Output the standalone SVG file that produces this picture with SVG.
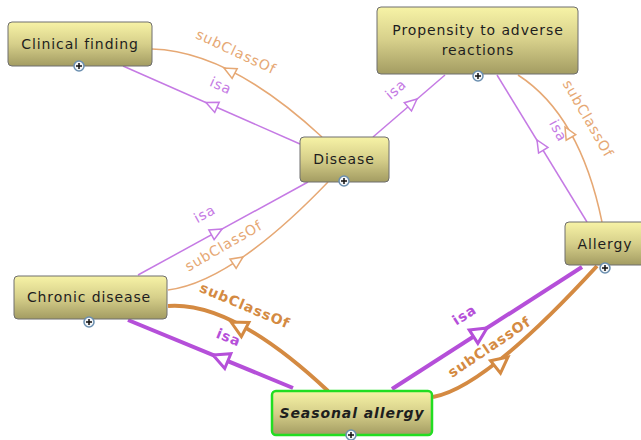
<svg xmlns="http://www.w3.org/2000/svg" xmlns:xlink="http://www.w3.org/1999/xlink" width="641" height="440" viewBox="0 0 641 440">
<defs>
<linearGradient id="g" x1="0" y1="0" x2="0" y2="1">
<stop offset="0" stop-color="#f7f3a6"/>
<stop offset="0.5" stop-color="#d6cf8a"/>
<stop offset="1" stop-color="#a39c62"/>
</linearGradient>
<path id="triS" d="M0,0 L-12,-5.5 L-12,5.5 Z"/>
<path id="triL" d="M0,0 L-16,-8 L-16,8 Z"/>
<g id="plus">
<circle r="5" fill="#f4f6f8" stroke="#6b8fb0" stroke-width="1.5"/>
<path d="M-3,0 H3 M0,-3 V3" stroke="#111" stroke-width="1.5"/>
</g>
</defs>
<style>
.node rect{fill:url(#g);stroke:#6e6e6e;stroke-width:1}
.node text{font-family:"DejaVu Sans",Verdana,sans-serif;font-size:14px;letter-spacing:0.9px;fill:#1e1e1e;text-anchor:middle}
.sel rect{stroke:#22dd22;stroke-width:2.5}
.sel text{font-weight:bold;font-style:italic}
.isa{stroke:#c57ae4;stroke-width:1.5;fill:none}
.sub{stroke:#e6a874;stroke-width:1.5;fill:none}
.isaB{stroke:#b54fd9;stroke-width:4;fill:none}
.subB{stroke:#d48a42;stroke-width:4;fill:none}
.hi{fill:#fff;stroke:#c57ae4;stroke-width:1.5}
.hs{fill:#fff;stroke:#e6a874;stroke-width:1.5}
.hiB{fill:#fff;stroke:#b54fd9;stroke-width:3}
.hsB{fill:#fff;stroke:#d48a42;stroke-width:3}
.lbl{font-family:"DejaVu Sans",Verdana,sans-serif;font-size:14px;letter-spacing:0.9px;text-anchor:middle}
.li{fill:#c57ae4}
.ls{fill:#e6a874}
.liB{fill:#b54fd9;font-weight:bold}
.lsB{fill:#d48a42;font-weight:bold}
</style>
<rect width="641" height="440" fill="#fff"/>
<g id="connectors">
<!-- Disease isa Clinical finding -->
<path class="isa" d="M300,144 L123,66"/>
<use xlink:href="#triS" class="hi" transform="translate(206,102.5) rotate(203.8)"/>
<text class="lbl li" transform="translate(219,90) rotate(23.8)">isa</text>
<!-- Disease subClassOf Clinical finding -->
<path class="sub" d="M152,49 Q229,51 322,137"/>
<use xlink:href="#triS" class="hs" transform="translate(224,68) rotate(207.4)"/>
<text class="lbl ls" transform="translate(234,56) rotate(25)">subClassOf</text>
<!-- Disease isa Propensity -->
<path class="isa" d="M373,137 L445,75"/>
<use xlink:href="#triS" class="hi" transform="translate(417,99) rotate(-40.7)"/>
<text class="lbl li" transform="translate(399,93) rotate(-40.7)">isa</text>
<!-- Allergy isa Propensity -->
<path class="isa" d="M587,222 L497,75"/>
<use xlink:href="#triS" class="hi" transform="translate(537,140) rotate(238.5)"/>
<text class="lbl li" transform="translate(554,133) rotate(62)">isa</text>
<!-- Allergy subClassOf Propensity -->
<path class="sub" d="M518,75 Q580,115 602,222"/>
<use xlink:href="#triS" class="hs" transform="translate(565,127) rotate(240.3)"/>
<text class="lbl ls" transform="translate(584,121) rotate(60)">subClassOf</text>
<!-- Chronic disease isa Disease -->
<path class="isa" d="M138,275 L308,182"/>
<use xlink:href="#triS" class="hi" transform="translate(222,229) rotate(-28.7)"/>
<text class="lbl li" transform="translate(207,218) rotate(-28.7)">isa</text>
<!-- Chronic disease subClassOf Disease -->
<path class="sub" d="M168,290 Q232,282 328,182"/>
<use xlink:href="#triS" class="hs" transform="translate(243,257) rotate(-34)"/>
<text class="lbl ls" transform="translate(226,250) rotate(-30)">subClassOf</text>
<!-- Seasonal allergy isa Chronic disease -->
<path class="isaB" d="M293,388 L128,320"/>
<use xlink:href="#triL" class="hiB" transform="translate(213,355) rotate(202.4)"/>
<text class="lbl liB" transform="translate(227,342) rotate(22.4)">isa</text>
<!-- Seasonal allergy subClassOf Chronic disease -->
<path class="subB" d="M168,306 Q232,301 328,391"/>
<use xlink:href="#triL" class="hsB" transform="translate(231,322) rotate(208)"/>
<text class="lbl lsB" transform="translate(243,310) rotate(23)">subClassOf</text>
<!-- Seasonal allergy isa Allergy -->
<path class="isaB" d="M392,389 L582,267"/>
<use xlink:href="#triL" class="hiB" transform="translate(487,328) rotate(-32.7)"/>
<text class="lbl liB" transform="translate(467,319) rotate(-32.7)">isa</text>
<!-- Seasonal allergy subClassOf Allergy -->
<path class="subB" d="M433,397 Q485,388 597,266"/>
<use xlink:href="#triL" class="hsB" transform="translate(508,357) rotate(-38.6)"/>
<text class="lbl lsB" transform="translate(492,351) rotate(-34)">subClassOf</text>
</g>
<g id="clinical-finding" class="node">
<rect x="8" y="22" width="144" height="44" rx="4"/>
<text x="80" y="49">Clinical finding</text>
<use xlink:href="#plus" x="79" y="66"/>
</g>
<g id="propensity" class="node">
<rect x="377" y="7" width="201" height="67" rx="4"/>
<text x="478" y="35">Propensity to adverse</text>
<text x="478" y="55">reactions</text>
<use xlink:href="#plus" x="478" y="76"/>
</g>
<g id="disease" class="node">
<rect x="300" y="137" width="89" height="45" rx="4"/>
<text x="344" y="164">Disease</text>
<use xlink:href="#plus" x="344" y="181"/>
</g>
<g id="chronic-disease" class="node">
<rect x="14" y="276" width="153" height="43" rx="4"/>
<text x="89" y="302">Chronic disease</text>
<use xlink:href="#plus" x="89" y="322"/>
</g>
<g id="allergy" class="node">
<rect x="565" y="222" width="80" height="43" rx="4"/>
<text x="605" y="249">Allergy</text>
<use xlink:href="#plus" x="605" y="268"/>
</g>
<g id="seasonal-allergy" class="node sel">
<rect x="272" y="391" width="160" height="44" rx="4"/>
<text x="352" y="418">Seasonal allergy</text>
<use xlink:href="#plus" x="351" y="435"/>
</g>
</svg>
